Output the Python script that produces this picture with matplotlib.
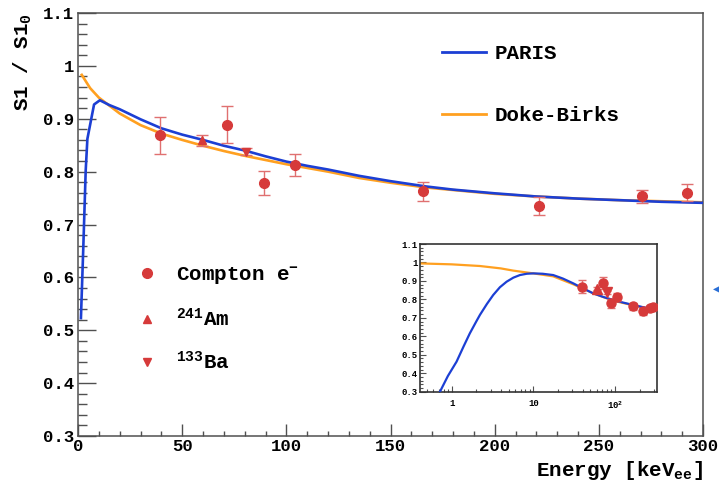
import matplotlib
matplotlib.use("Agg")
import matplotlib.pyplot as plt
from matplotlib.lines import Line2D
from matplotlib.ticker import MultipleLocator, FixedLocator, NullFormatter

plt.rcParams['font.family'] = ['Liberation Mono', 'DejaVu Sans']
plt.rcParams['font.weight'] = 'bold'
plt.rcParams['mathtext.fontset'] = 'custom'
plt.rcParams['mathtext.rm'] = 'Liberation Mono:bold'
plt.rcParams['mathtext.it'] = 'Liberation Mono:bold'
plt.rcParams['mathtext.bf'] = 'Liberation Mono:bold'
plt.rcParams['mathtext.default'] = 'rm'

# measured points
compton_x = [39.4, 71.7, 89.3, 104.2, 165.8, 221.3, 270.6, 292.2]
compton_y = [0.869, 0.889, 0.779, 0.812, 0.763, 0.735, 0.753, 0.760]
compton_err = [0.035, 0.035, 0.023, 0.021, 0.018, 0.017, 0.012, 0.016]
am_x = [59.4]
am_y = [0.859]
am_err = [0.010]
ba_x = [80.6]
ba_y = [0.838]
ba_err = [0.006]

# model curves
paris_x = [1.4, 2.5, 3.7, 4.5, 7.7, 10.5, 15, 20, 30, 40, 50, 60, 70, 80, 90, 100,
           110, 120, 135, 150, 167, 180, 200, 220, 240, 260, 280, 300]
paris_y = [0.523, 0.652, 0.803, 0.862, 0.927, 0.935, 0.926, 0.918, 0.899, 0.882, 0.870,
           0.860, 0.849, 0.840, 0.829, 0.819, 0.811, 0.804, 0.792, 0.782, 0.772, 0.766,
           0.759, 0.753, 0.749, 0.746, 0.743, 0.741]
doke_x = [1.8, 5.8, 10, 15, 20, 30, 40, 50, 60, 70, 80, 90, 100, 120, 135, 150, 167,
          200, 220, 240, 260, 280, 300]
doke_y = [0.983, 0.958, 0.940, 0.925, 0.910, 0.888, 0.872, 0.860, 0.849, 0.839, 0.830,
          0.822, 0.814, 0.800, 0.788, 0.779, 0.770, 0.758, 0.753, 0.749, 0.746, 0.744,
          0.742]

# model curves
ins_paris_x = [0.72, 0.9, 1.15, 1.4, 1.67, 2.0, 2.22, 2.7, 3.23, 3.9, 4.71, 5.7, 6.86,
               8.3, 10, 13, 17.5, 23, 30.8, 40, 54, 72, 95, 125, 167, 230, 308]
ins_paris_y = [0.300, 0.385, 0.463, 0.545, 0.616, 0.680, 0.716, 0.775, 0.824, 0.866,
               0.896, 0.918, 0.932, 0.939, 0.941, 0.939, 0.932, 0.913, 0.887, 0.861,
               0.833, 0.813, 0.797, 0.783, 0.770, 0.756, 0.743]
ins_doke_x = [0.41, 1.0, 2.22, 4.0, 5.68, 10, 17.5, 30.8, 54, 95, 167, 308]
ins_doke_y = [0.995, 0.990, 0.981, 0.968, 0.956, 0.941, 0.925, 0.882, 0.833, 0.793,
              0.768, 0.743]

blue = '#1c3fd4'
orange = '#ffa020'
red = '#d63a3a'
err_red = '#e07070'
frame = '#505050'

fig = plt.figure(figsize=(7.19, 4.82), dpi=100)
ax = fig.add_axes([0.1085, 0.0954, 0.8693, 0.8776])

ax.plot(paris_x, paris_y, color=blue, lw=1.9, zorder=3)
ax.plot(doke_x, doke_y, color=orange, lw=1.9, zorder=2)

ax.errorbar(compton_x, compton_y, yerr=compton_err, fmt='o', color=red, ms=7,
            ecolor=err_red, elinewidth=1.0, capsize=4, capthick=1.0, zorder=4)
ax.errorbar(am_x, am_y, yerr=am_err, fmt='^', color=red, ms=6,
            ecolor=err_red, elinewidth=1.0, capsize=4, capthick=1.0, zorder=4)
ax.errorbar(ba_x, ba_y, yerr=ba_err, fmt='v', color=red, ms=6,
            ecolor=err_red, elinewidth=1.0, capsize=4, capthick=1.0, zorder=4)

ax.set_xlim(0, 300)
ax.set_ylim(0.3, 1.1)
ax.xaxis.set_major_locator(MultipleLocator(50))
ax.xaxis.set_minor_locator(MultipleLocator(10))
ax.yaxis.set_major_locator(MultipleLocator(0.1))
ax.yaxis.set_minor_locator(MultipleLocator(0.02))
ax.yaxis.set_major_formatter(plt.FuncFormatter(lambda v, p: f'{v:.2g}'))
ax.tick_params(axis='both', which='both', direction='in', colors=frame,
               labelcolor='black', labelsize=12.5, width=1.0)
ax.tick_params(axis='y', which='major', length=13, pad=3)
ax.tick_params(axis='y', which='minor', length=6.5)
ax.tick_params(axis='x', which='major', length=8.5, pad=2)
ax.tick_params(axis='x', which='minor', length=3.6)
for lab in ax.get_xticklabels() + ax.get_yticklabels():
    lab.set_fontweight('bold')
for s in ax.spines.values():
    s.set_color(frame)
    s.set_linewidth(1.1)

ax.set_xlabel('Energy [keV$_{ee}$]', fontsize=15, fontweight='bold', loc='right')
ax.xaxis.set_label_coords(1.0, -0.055)
ax.set_ylabel('S1 / S1$_{0}$', fontsize=15, fontweight='bold', loc='top')
ax.yaxis.set_label_coords(-0.07, 1.0)

model_handles = [Line2D([], [], color=blue, lw=2.0), Line2D([], [], color=orange, lw=2.0)]
leg1 = ax.legend(model_handles, ['PARIS', 'Doke-Birks'], loc='upper left',
                 bbox_to_anchor=(0.552, 0.97), frameon=False,
                 prop={'size': 15, 'weight': 'bold'},
                 handlelength=2.1, handletextpad=0.45, labelspacing=2.05)
ax.add_artist(leg1)
data_handles = [Line2D([], [], color=red, marker='o', ls='none', ms=7),
                Line2D([], [], color=red, marker='^', ls='none', ms=6),
                Line2D([], [], color=red, marker='v', ls='none', ms=6)]
ax.legend(data_handles, ['Compton e$^{-}$', '$^{241}$Am', '$^{133}$Ba'],
          loc='upper left', bbox_to_anchor=(0.047, 0.45), frameon=False,
          prop={'size': 15, 'weight': 'bold'},
          handletextpad=0.4, labelspacing=1.0)

# inset, log energy scale
ins = fig.add_axes([0.5841, 0.1873, 0.3292, 0.3064])
ins.plot(ins_doke_x, ins_doke_y, color=orange, lw=1.6, zorder=2)
ins.plot(ins_paris_x, ins_paris_y, color=blue, lw=1.6, zorder=3)
ins.errorbar(compton_x, compton_y, yerr=compton_err, fmt='o', color=red, ms=6.5,
             ecolor=err_red, elinewidth=1.0, capsize=3, capthick=1.0, zorder=4)
ins.errorbar(am_x, am_y, yerr=am_err, fmt='^', color=red, ms=6.5,
             ecolor=err_red, elinewidth=1.0, capsize=3, zorder=4)
ins.errorbar(ba_x, ba_y, yerr=ba_err, fmt='v', color=red, ms=6.5,
             ecolor=err_red, elinewidth=1.0, capsize=3, zorder=4)
ins.set_xscale('log')
ins.set_xlim(0.41, 323)
ins.set_ylim(0.3, 1.1)
ins.xaxis.set_major_locator(FixedLocator([1, 10, 100]))
ins.set_xticklabels(['1', '10', '10$^{2}$'])
ins.xaxis.set_minor_locator(FixedLocator(
    [k * 10.0 ** e for e in (-1, 0, 1, 2) for k in range(2, 10)]))
ins.xaxis.set_minor_formatter(NullFormatter())
ins.yaxis.set_major_locator(MultipleLocator(0.1))
ins.yaxis.set_minor_locator(MultipleLocator(0.02))
ins.yaxis.set_major_formatter(plt.FuncFormatter(lambda v, p: f'{v:.2g}'))
ins.tick_params(axis='both', which='both', direction='in', colors=frame,
                labelcolor='black', labelsize=6.5, width=0.8)
ins.tick_params(axis='y', which='major', length=4.5, pad=1.5)
ins.tick_params(axis='y', which='minor', length=2.3)
ins.tick_params(axis='x', which='major', length=4.5, pad=5.5)
ins.tick_params(axis='x', which='minor', length=2.3)
for lab in ins.get_xticklabels() + ins.get_yticklabels():
    lab.set_fontweight('bold')
for s in ins.spines.values():
    s.set_color('#333333')
    s.set_linewidth(1.2)

fig.text(0.997, 0.40, '\u25c0', color='#2a6fd6', fontsize=7,
         family='DejaVu Sans', ha='center', va='center')

fig.savefig('out.png', dpi=100)
